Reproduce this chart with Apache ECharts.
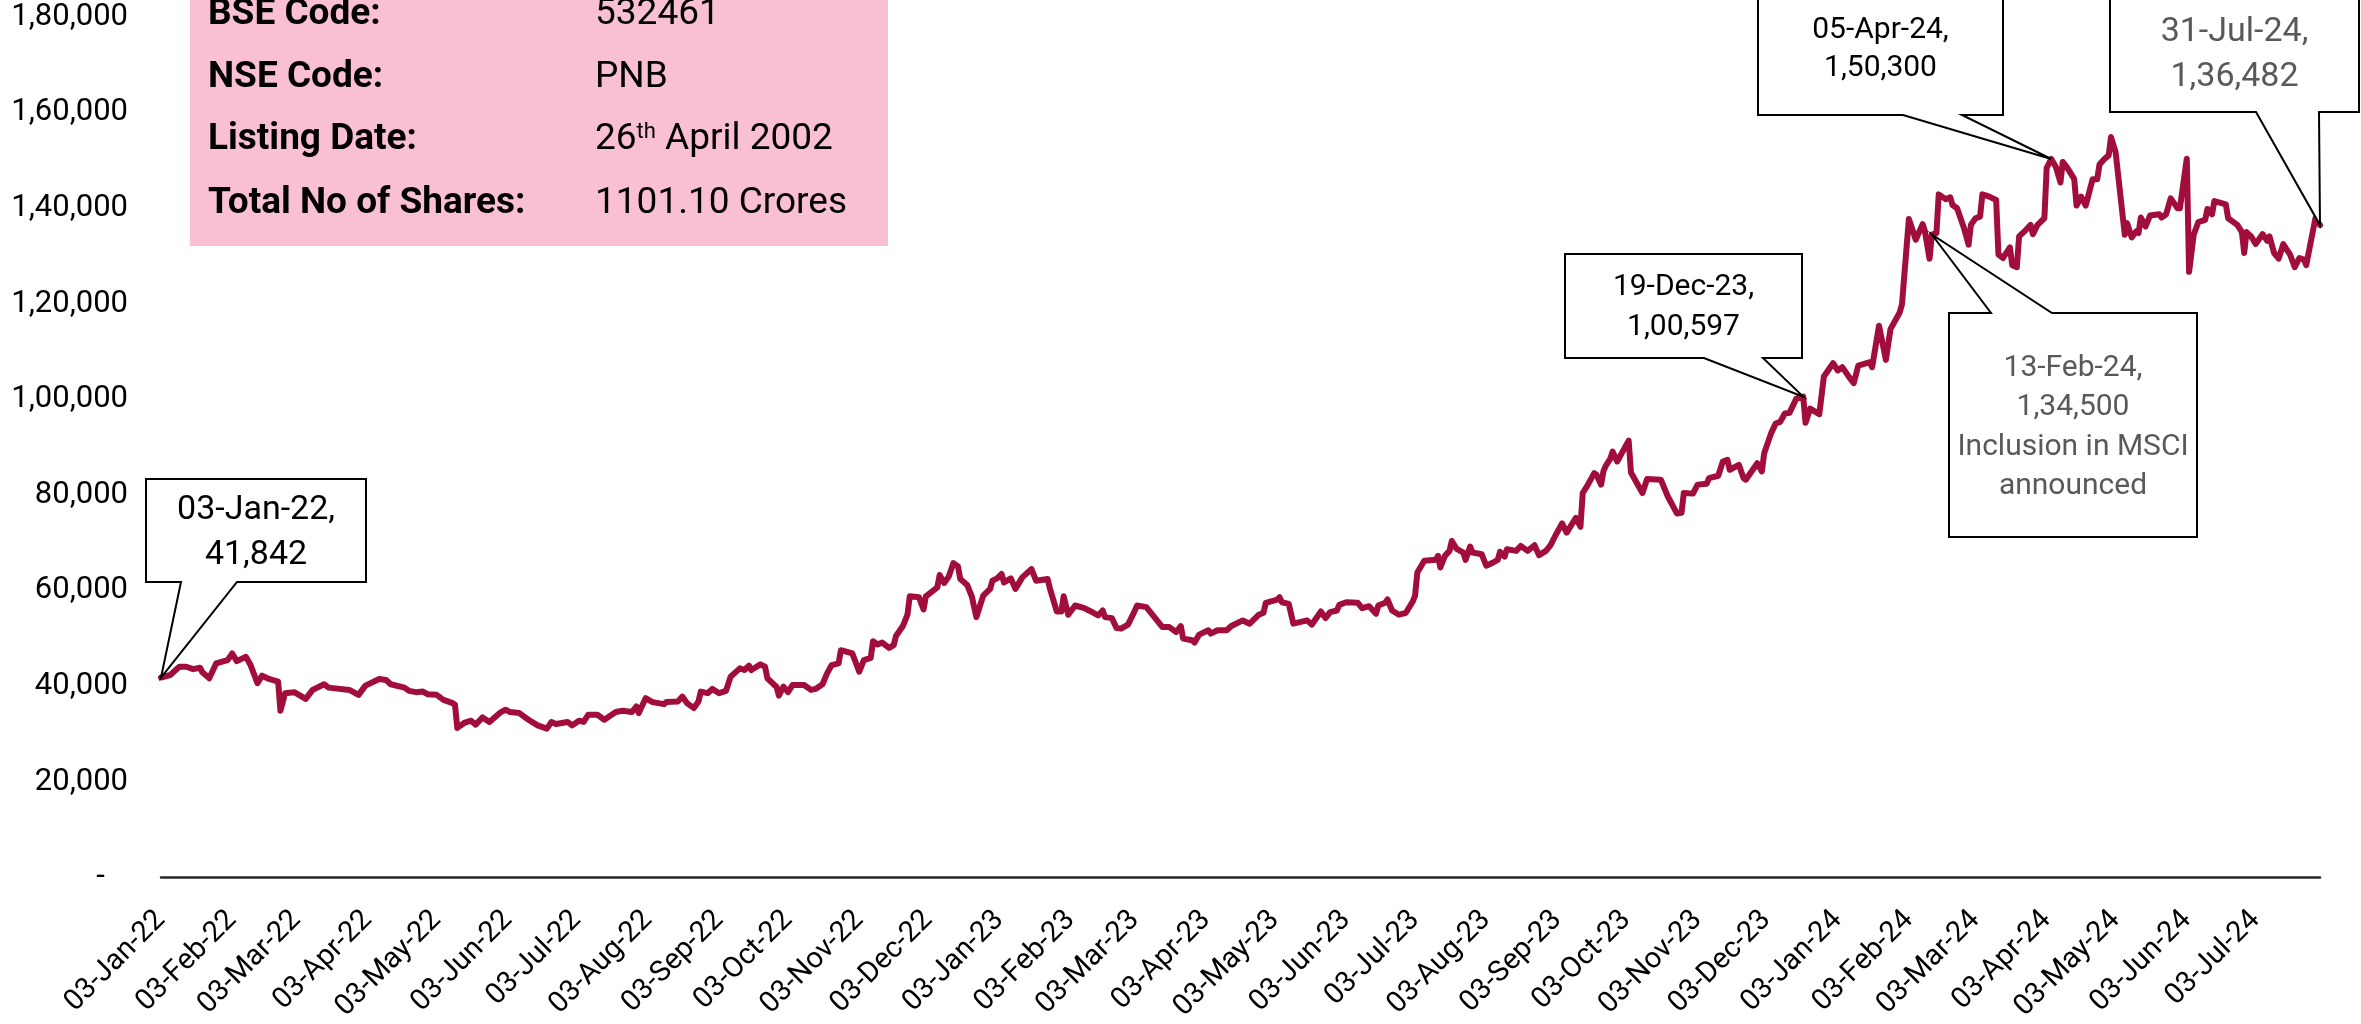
<!DOCTYPE html>
<html><head><meta charset="utf-8">
<script src="https://cdn.jsdelivr.net/npm/echarts@6/dist/echarts.min.js"></script>
<style>html,body{margin:0;padding:0;background:#fff}#c{width:2361px;height:1024px}</style>
</head><body><div id="c"></div>
<script>
// ---- DATA ----
const dates = [
'2022-01-03','2022-01-07','2022-01-11','2022-01-14','2022-01-17','2022-01-20','2022-01-21','2022-01-24','2022-01-27','2022-02-01',
'2022-02-03','2022-02-05','2022-02-09','2022-02-11','2022-02-14','2022-02-16','2022-02-19','2022-02-23','2022-02-24','2022-02-26',
'2022-03-02','2022-03-07','2022-03-10','2022-03-15','2022-03-17','2022-03-26','2022-03-30','2022-04-02','2022-04-08','2022-04-11',
'2022-04-13','2022-04-19','2022-04-21','2022-04-24','2022-04-27','2022-04-29','2022-05-03','2022-05-06','2022-05-10','2022-05-11',
'2022-05-12','2022-05-15','2022-05-18','2022-05-20','2022-05-23','2022-05-26','2022-05-31','2022-06-02','2022-06-04','2022-06-08',
'2022-06-12','2022-06-16','2022-06-20','2022-06-22','2022-06-24','2022-06-29','2022-07-01','2022-07-04','2022-07-06','2022-07-08',
'2022-07-12','2022-07-15','2022-07-20','2022-07-23','2022-07-27','2022-07-29','2022-07-30','2022-08-02','2022-08-05','2022-08-10',
'2022-08-11','2022-08-16','2022-08-18','2022-08-20','2022-08-23','2022-08-25','2022-08-26','2022-08-29','2022-08-31','2022-09-03',
'2022-09-06','2022-09-08','2022-09-12','2022-09-14','2022-09-16','2022-09-17','2022-09-21','2022-09-23','2022-09-24','2022-09-27',
'2022-09-28','2022-09-29','2022-10-01','2022-10-03','2022-10-05','2022-10-10','2022-10-13','2022-10-15','2022-10-18','2022-10-20',
'2022-10-22','2022-10-25','2022-10-26','2022-10-31','2022-11-03','2022-11-05','2022-11-08','2022-11-09','2022-11-11','2022-11-13',
'2022-11-16','2022-11-18','2022-11-19','2022-11-22','2022-11-24','2022-11-25','2022-11-29','2022-12-01','2022-12-02','2022-12-07',
'2022-12-08','2022-12-10','2022-12-12','2022-12-14','2022-12-16','2022-12-17','2022-12-20','2022-12-22','2022-12-24','2022-12-27',
'2022-12-30','2022-12-31','2023-01-02','2023-01-04','2023-01-05','2023-01-08','2023-01-10','2023-01-13','2023-01-17','2023-01-19',
'2023-01-24','2023-01-25','2023-01-28','2023-01-30','2023-01-31','2023-02-02','2023-02-05','2023-02-09','2023-02-11','2023-02-15',
'2023-02-17','2023-02-18','2023-02-21','2023-02-23','2023-02-25','2023-02-28','2023-03-02','2023-03-04','2023-03-08','2023-03-13',
'2023-03-15','2023-03-18','2023-03-21','2023-03-23','2023-03-24','2023-03-28','2023-03-29','2023-03-31','2023-04-04','2023-04-05',
'2023-04-08','2023-04-12','2023-04-14','2023-04-19','2023-04-22','2023-04-26','2023-04-28','2023-04-29','2023-05-04','2023-05-05',
'2023-05-06','2023-05-09','2023-05-11','2023-05-17','2023-05-19','2023-05-23','2023-05-25','2023-05-27','2023-05-30','2023-05-31',
'2023-06-03','2023-06-08','2023-06-10','2023-06-13','2023-06-16','2023-06-17','2023-06-20','2023-06-21','2023-06-23','2023-06-26',
'2023-06-29','2023-07-02','2023-07-03','2023-07-04','2023-07-07','2023-07-12','2023-07-13','2023-07-14','2023-07-16','2023-07-18',
'2023-07-19','2023-07-21','2023-07-24','2023-07-25','2023-07-27','2023-07-28','2023-08-01','2023-08-03','2023-08-06','2023-08-08',
'2023-08-09','2023-08-11','2023-08-12','2023-08-16','2023-08-18','2023-08-21','2023-08-24','2023-08-26','2023-08-29','2023-08-31',
'2023-09-02','2023-09-05','2023-09-07','2023-09-11','2023-09-13','2023-09-14','2023-09-16','2023-09-19','2023-09-20','2023-09-22',
'2023-09-23','2023-09-24','2023-09-26','2023-09-27','2023-09-29','2023-10-04','2023-10-05','2023-10-10','2023-10-12','2023-10-18',
'2023-10-21','2023-10-25','2023-10-27','2023-10-28','2023-11-01','2023-11-03','2023-11-07','2023-11-08','2023-11-12','2023-11-14',
'2023-11-16','2023-11-17','2023-11-21','2023-11-23','2023-11-24','2023-11-29','2023-12-01','2023-12-02','2023-12-05','2023-12-07',
'2023-12-09','2023-12-11','2023-12-13','2023-12-16','2023-12-19','2023-12-20','2023-12-22','2023-12-26','2023-12-28','2024-01-01',
'2024-01-03','2024-01-05','2024-01-08','2024-01-10','2024-01-12','2024-01-17','2024-01-18','2024-01-21','2024-01-24','2024-01-26',
'2024-01-30','2024-01-31','2024-02-03','2024-02-06','2024-02-09','2024-02-10','2024-02-12','2024-02-13','2024-02-15','2024-02-16',
'2024-02-19','2024-02-21','2024-02-22','2024-02-24','2024-02-27','2024-02-29','2024-03-01','2024-03-03','2024-03-05','2024-03-06',
'2024-03-09','2024-03-12','2024-03-13','2024-03-15','2024-03-18','2024-03-19','2024-03-21','2024-03-22','2024-03-25','2024-03-27',
'2024-03-28','2024-03-30','2024-04-02','2024-04-03','2024-04-05','2024-04-07','2024-04-09','2024-04-10','2024-04-12','2024-04-15',
'2024-04-16','2024-04-18','2024-04-20','2024-04-23','2024-04-25','2024-04-26','2024-04-28','2024-04-30','2024-05-01','2024-05-03',
'2024-05-07','2024-05-08','2024-05-10','2024-05-12','2024-05-13','2024-05-14','2024-05-16','2024-05-18','2024-05-22','2024-05-23',
'2024-05-25','2024-05-27','2024-05-30','2024-05-31','2024-06-03','2024-06-04','2024-06-06','2024-06-08','2024-06-11','2024-06-12',
'2024-06-14','2024-06-15','2024-06-20','2024-06-21','2024-06-25','2024-06-27','2024-06-28','2024-06-29','2024-07-01','2024-07-03',
'2024-07-06','2024-07-08','2024-07-09','2024-07-11','2024-07-13','2024-07-15','2024-07-17','2024-07-18','2024-07-20','2024-07-22',
'2024-07-24','2024-07-25','2024-07-29','2024-07-31'
];
const marketCap = [
41842,42370,44100,44100,43600,43900,42930,41690,44800,45490,
46880,45280,46170,44450,40650,42230,41540,41000,34890,38570,
38780,37390,39250,40440,39730,39250,38220,40150,41540,41330,
40440,39730,39050,38780,38900,38360,38220,37180,36490,36140,
31300,32340,32820,31990,33500,32550,34620,35100,34620,34410,
33020,31840,31160,32550,32130,32550,31840,32820,32550,34060,
34060,33020,34620,34890,34620,35790,34410,37530,36700,36280,
36700,36830,37860,36490,35450,36830,38900,38570,39460,38570,
39050,42020,43760,43410,44300,43410,44590,44100,41690,40290,
39940,38070,39940,38780,40290,40290,39250,39460,40440,42720,
44450,44800,47560,46880,43060,45490,45960,49430,48750,49160,
48050,48600,50530,52610,54980,58840,58630,56080,58840,60710,
63280,61620,63000,65780,65070,62450,61200,58840,54480,58980,
60380,62100,62580,63490,61750,62580,60380,62790,64530,62100,
62450,60500,55660,55660,58840,54980,56910,56350,55870,54830,
55870,54480,54270,52200,52070,52900,54830,56910,56560,53590,
52400,52400,51360,52610,49990,49640,49160,50820,51720,51030,
51720,51720,52610,53790,53110,54980,55390,57470,58160,58630,
57590,57260,53110,53790,52900,55660,54270,55520,55870,57050,
57590,57470,56350,56770,55180,56910,57470,58160,55870,54980,
55390,57740,58980,63820,66260,66460,67290,64860,67290,68330,
70410,68810,67980,66460,69230,67980,67640,65220,65900,66460,
68120,67150,68690,68330,69370,68330,69520,67440,68330,69520,
71450,74090,72140,75250,73380,80440,81980,84600,84260,82190,
84950,86130,87600,89100,87030,91390,84740,80440,83350,83220,
79760,76160,76300,80440,80310,82190,82390,83560,84050,87030,
87380,85300,86330,83560,83220,86680,84950,88750,92910,94980,
95330,97060,97200,100170,100597,95120,98090,96930,104820,107590,
106070,106760,104680,103430,107100,107800,106760,115420,108280,114720,
118180,119910,137770,133410,136670,135150,129460,134500,134800,142900,
141900,142300,140680,139990,135840,132370,136520,137910,138260,142900,
142420,141710,130290,129600,131820,128090,127670,134110,135490,136520,
134590,136520,137910,148440,150300,148650,145390,149690,148440,146080,
140550,142420,140550,146080,146080,149130,150230,151060,154880,151760,
134450,136880,133900,135150,134800,138060,136180,138470,138740,138060,
138740,142070,139990,139990,150370,126700,134450,137080,137560,139850,
138740,141500,140820,137910,136520,135010,130640,135010,134110,132510,
134590,133200,134110,130640,129460,132510,130990,130290,127670,129600,
129250,128090,137910,136482
];
const tickLabels = [
'03-Jan-22','03-Feb-22','03-Mar-22','03-Apr-22','03-May-22','03-Jun-22','03-Jul-22','03-Aug-22','03-Sep-22','03-Oct-22','03-Nov-22','03-Dec-22',
'03-Jan-23','03-Feb-23','03-Mar-23','03-Apr-23','03-May-23','03-Jun-23','03-Jul-23','03-Aug-23','03-Sep-23','03-Oct-23','03-Nov-23','03-Dec-23',
'03-Jan-24','03-Feb-24','03-Mar-24','03-Apr-24','03-May-24','03-Jun-24','03-Jul-24'
];
const calloutDates = ['2022-01-03','2023-12-19','2024-02-13','2024-04-05','2024-07-31'];
const calloutNotes = [[], [], ['Inclusion in MSCI','announced'], [], []];
const infoLabels = ['BSE Code:','NSE Code:','Listing Date:','Total No of Shares:'];
const infoValues = ['532461','PNB','26{sup|th} April 2002','1101.10 Crores'];

// ---- helpers ----
const MONS = ['Jan','Feb','Mar','Apr','May','Jun','Jul','Aug','Sep','Oct','Nov','Dec'];
function parseISO(s){const p=s.split('-').map(Number);return Date.UTC(p[0],p[1]-1,p[2]);}
function parseTick(s){const p=s.split('-');return Date.UTC(2000+Number(p[2]),MONS.indexOf(p[1]),Number(p[0]));}
function fmtDate(ts){const d=new Date(ts);return String(d.getUTCDate()).padStart(2,'0')+'-'+MONS[d.getUTCMonth()]+'-'+String(d.getUTCFullYear()).slice(2);}
function inr(n){const s=String(Math.round(n));if(s.length<=3)return s;const last=s.slice(-3);const rest=s.slice(0,-3);return rest.replace(/\B(?=(\d{2})+(?!\d))/g,',')+','+last;}

const FONT = "Roboto, 'Liberation Sans', sans-serif";
const seriesData = dates.map((d,i)=>[parseISO(d), marketCap[i]]);
const tickValues = tickLabels.map(parseTick);

const chart = echarts.init(document.getElementById('c'), null, {renderer:'canvas'});
chart.setOption({
  animation:false,
  backgroundColor:'#ffffff',
  grid:{left:161, right:41, top:17, bottom:140, containLabel:false},
  xAxis:{
    type:'value',
    min:parseISO(dates[0]), max:parseISO(dates[dates.length-1]),
    axisLine:{show:true, onZero:true, lineStyle:{color:'#262626', width:2.5}},
    axisTick:{show:false},
    splitLine:{show:false},
    axisLabel:{customValues:tickValues, formatter:v=>fmtDate(v), rotate:45, margin:38,
      fontSize:29, color:'#000', fontFamily:FONT}
  },
  yAxis:{
    type:'value', min:0, max:180000, interval:20000,
    axisLine:{show:false}, axisTick:{show:false}, splitLine:{show:false},
    axisLabel:{formatter:v=>v===0?'-   ':inr(v), fontSize:31, color:'#000', margin:33, fontFamily:FONT}
  },
  series:[{
    type:'line', data:seriesData, symbol:'none', showSymbol:false, clip:false,
    lineStyle:{color:'#A20E3B', width:6, join:'round', cap:'round'}, z:2
  }]
});

// ---- callout layout (pixels) ----
const calloutLayout = [
  {box:[146,479,366,582], base:[181,237], side:'bottom', lineY:[510,555], size:34, color:'#000000'},
  {box:[1565,254,1802,358], base:[1704,1763], side:'bottom', lineY:[287,327], size:30, color:'#000000'},
  {box:[1949,313,2197,537], base:[1991,2052], side:'top', lineY:[368,407,447,486], size:30, color:'#595959'},
  {box:[1758,-5,2003,115], base:[1903,1962], side:'bottom', lineY:[30,68], size:30, color:'#000000'},
  {box:[2110,-5,2359,112], base:[2256,2319], side:'bottom', lineY:[32,77], size:34, color:'#595959'}
];

const graphics = [];
// info box
graphics.push({type:'rect', z:50, shape:{x:190,y:-5,width:698,height:251}, style:{fill:'#F9BFD3'}});
const infoY = [15,78,140,204];
infoLabels.forEach((t,i)=>{
  graphics.push({type:'text', z:51, x:208, y:infoY[i], style:{text:t, fontSize:37, fontWeight:'bold', fontFamily:FONT, fill:'#000', textVerticalAlign:'middle'}});
  graphics.push({type:'text', z:51, x:595, y:infoY[i], style:{text:infoValues[i], fontSize:37, fontFamily:FONT, fill:'#000', textVerticalAlign:'middle',
    rich:{sup:{fontSize:22, verticalAlign:'top', fontFamily:FONT, fill:'#000'}}}});
});

calloutDates.forEach((d,i)=>{
  const idx = dates.indexOf(d);
  const val = marketCap[idx];
  const tip = chart.convertToPixel({gridIndex:0}, [parseISO(d), val]);
  const L = calloutLayout[i];
  const [x1,y1,x2,y2] = L.box;
  const [b1,b2] = L.base;
  let pts;
  if (L.side==='bottom') {
    pts = [[x1,y1],[x2,y1],[x2,y2],[b2,y2],tip,[b1,y2],[x1,y2]];
  } else {
    pts = [[x1,y1],[b1,y1],tip,[b2,y1],[x2,y1],[x2,y2],[x1,y2]];
  }
  graphics.push({type:'polygon', z:60, shape:{points:pts}, style:{fill:'#ffffff', stroke:'#000000', lineWidth:2}});
  const lines = [fmtDate(parseISO(d))+',', inr(val)].concat(calloutNotes[i]);
  const cx = (x1+x2)/2;
  lines.forEach((t,j)=>{
    graphics.push({type:'text', z:61, x:cx, y:L.lineY[j], style:{text:t, fontSize:L.size, fontFamily:FONT, fill:L.color, textAlign:'center', textVerticalAlign:'middle'}});
  });
});
chart.setOption({graphic:{elements:graphics}});
</script>
</body></html>
